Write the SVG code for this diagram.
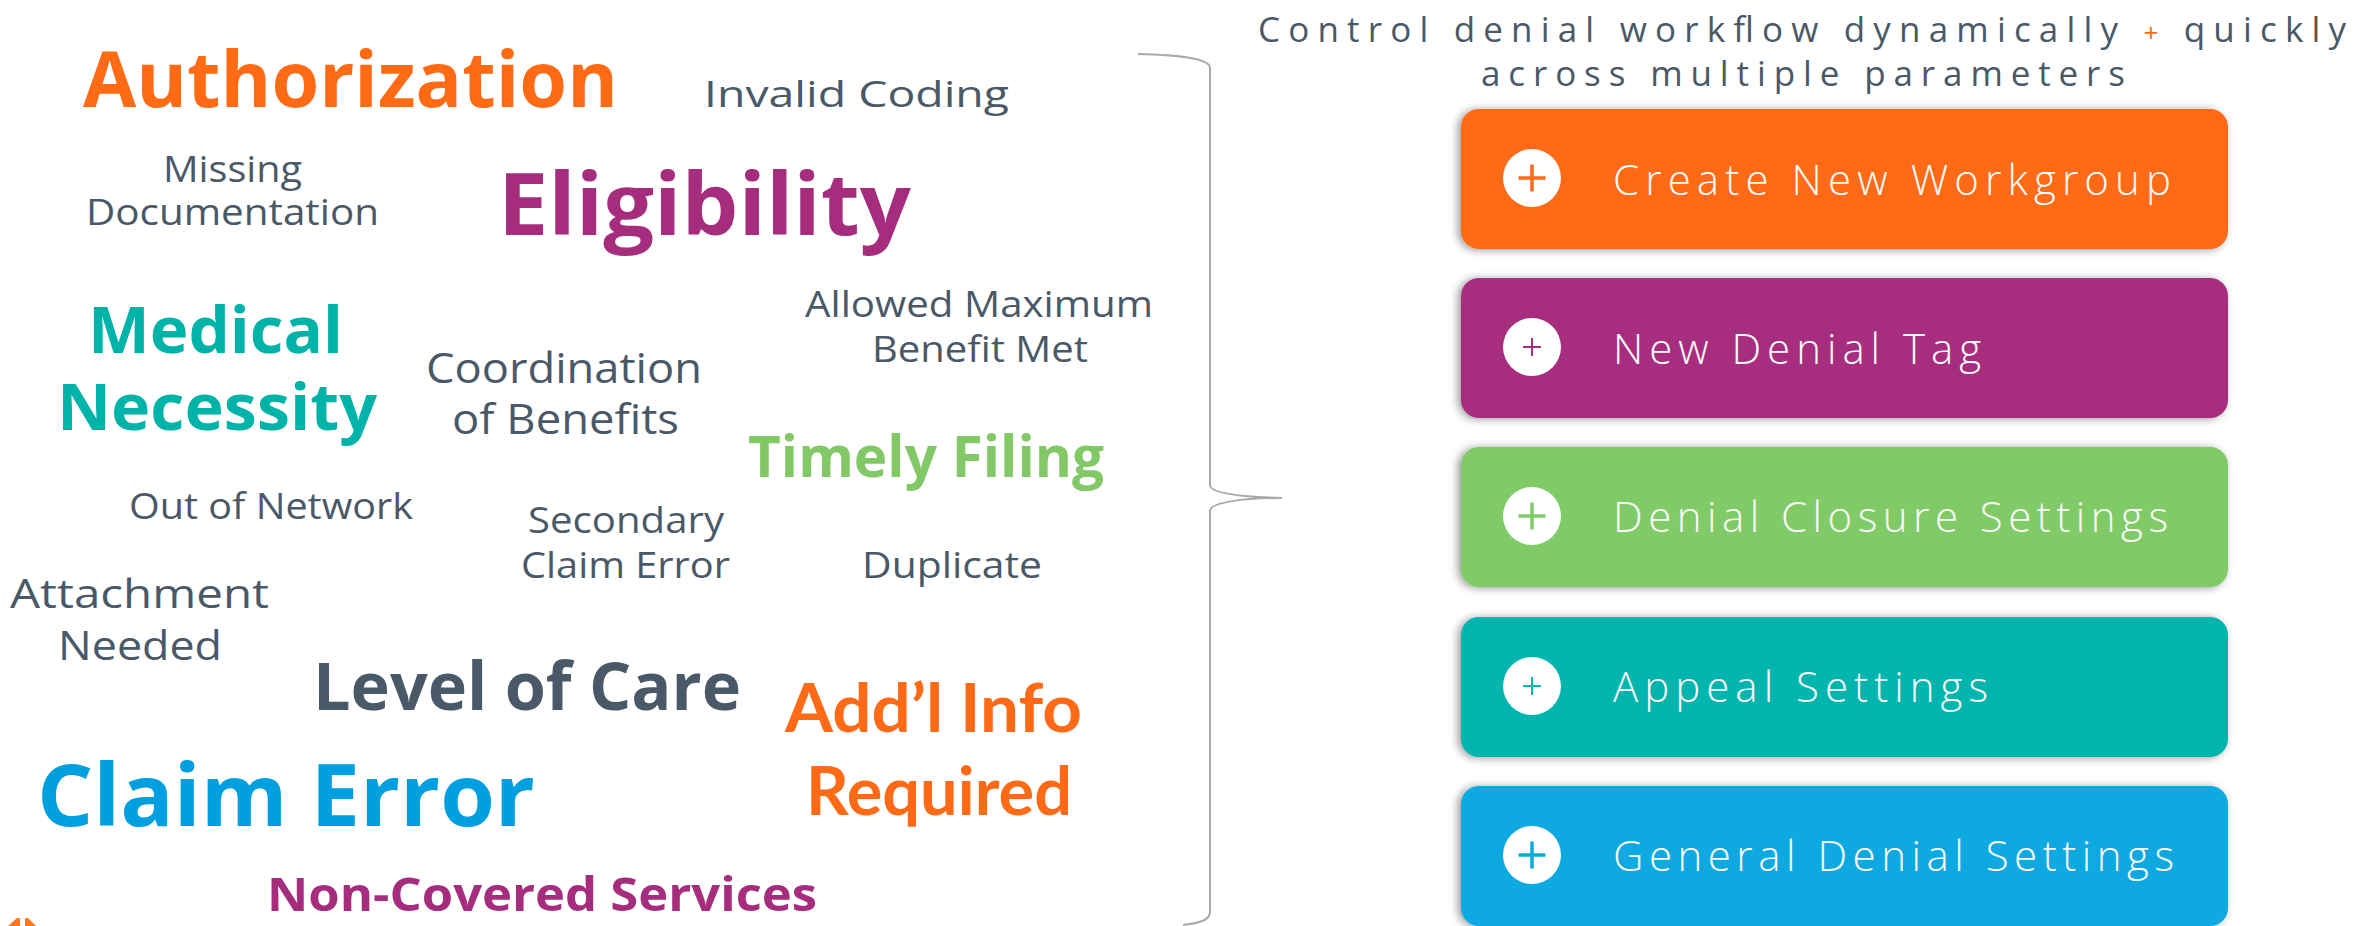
<svg xmlns="http://www.w3.org/2000/svg" width="2356" height="926" viewBox="0 0 2356 926">
<style>
.w{font-family:"Open Sans","Liberation Sans",sans-serif;fill:#4a5968;font-weight:400}
.b{font-family:"Open Sans","Liberation Sans",sans-serif;font-weight:700}
.c{font-family:Lato,"Open Sans","Liberation Sans",sans-serif;font-weight:700;fill:#ff6a17}
.btxt{font-family:"Open Sans","Liberation Sans",sans-serif;font-weight:300;font-size:42px;fill:#fafafa}
.title{font-family:"Open Sans","Liberation Sans",sans-serif;font-weight:400;font-size:35px;fill:#4a5968}
.brace{fill:none;stroke:#a9a9a9;stroke-width:2}
.ic{fill:#ffffff}
.pl{fill:none;stroke-linecap:butt}
</style>
<defs>
<filter id="sh" x="-5%" y="-15%" width="110%" height="130%">
<feDropShadow dx="-3" dy="1" stdDeviation="4" flood-color="#000" flood-opacity="0.4"/>
</filter>
</defs>
<rect width="2356" height="926" fill="#ffffff"/>

<g id="word-cloud">
<g id="w-authorization"><text class="b" x="83" y="107" font-size="77" fill="#ff6a14" textLength="535" lengthAdjust="spacingAndGlyphs">Authorization</text></g>
<g id="w-invalid-coding"><text class="w" x="704" y="107" font-size="37" textLength="305" lengthAdjust="spacingAndGlyphs">Invalid Coding</text></g>
<g id="w-missing-documentation">
<text class="w" x="163" y="182" font-size="37" textLength="139" lengthAdjust="spacingAndGlyphs">Missing</text>
<text class="w" x="86" y="225" font-size="37" textLength="293" lengthAdjust="spacingAndGlyphs">Documentation</text>
</g>
<g id="w-eligibility"><text class="b" x="498" y="235" font-size="86" fill="#a62d7d" textLength="413" lengthAdjust="spacingAndGlyphs">Eligibility</text></g>
<g id="w-medical-necessity">
<text class="b" x="88" y="353" font-size="64" fill="#00b3a9" textLength="255" lengthAdjust="spacingAndGlyphs">Medical</text>
<text class="b" x="57" y="430" font-size="64" fill="#00b3a9" textLength="320" lengthAdjust="spacingAndGlyphs">Necessity</text>
</g>
<g id="w-coordination">
<text class="w" x="426" y="383" font-size="42" textLength="276" lengthAdjust="spacingAndGlyphs">Coordination</text>
<text class="w" x="452" y="434" font-size="42" textLength="227" lengthAdjust="spacingAndGlyphs">of Benefits</text>
</g>
<g id="w-allowed-maximum">
<text class="w" x="805" y="317" font-size="37" textLength="348" lengthAdjust="spacingAndGlyphs">Allowed Maximum</text>
<text class="w" x="872" y="362" font-size="37" textLength="216" lengthAdjust="spacingAndGlyphs">Benefit Met</text>
</g>
<g id="w-timely-filing"><text class="b" x="748" y="477" font-size="57" fill="#82c866" textLength="356" lengthAdjust="spacingAndGlyphs">Timely Filing</text></g>
<g id="w-out-of-network"><text class="w" x="129" y="519" font-size="37" textLength="284" lengthAdjust="spacingAndGlyphs">Out of Network</text></g>
<g id="w-secondary-claim-error">
<text class="w" x="528" y="533" font-size="37" textLength="196" lengthAdjust="spacingAndGlyphs">Secondary</text>
<text class="w" x="521" y="578" font-size="37" textLength="209" lengthAdjust="spacingAndGlyphs">Claim Error</text>
</g>
<g id="w-duplicate"><text class="w" x="862" y="578" font-size="37" textLength="180" lengthAdjust="spacingAndGlyphs">Duplicate</text></g>
<g id="w-attachment-needed">
<text class="w" x="10" y="608" font-size="41" textLength="259" lengthAdjust="spacingAndGlyphs">Attachment</text>
<text class="w" x="58" y="660" font-size="41" textLength="164" lengthAdjust="spacingAndGlyphs">Needed</text>
</g>
<g id="w-level-of-care"><text class="b" x="313" y="710" font-size="67" fill="#4a5968" textLength="428" lengthAdjust="spacingAndGlyphs">Level of Care</text></g>
<g id="w-addl-info-required">
<text class="c" x="785" y="732" font-size="66" textLength="297" lengthAdjust="spacingAndGlyphs">Add’l Info</text>
<text class="c" x="806" y="815" font-size="66" textLength="266" lengthAdjust="spacingAndGlyphs">Required</text>
</g>
<g id="w-claim-error"><text class="b" x="37" y="826" font-size="86" fill="#009fdf" textLength="498" lengthAdjust="spacingAndGlyphs">Claim Error</text></g>
<g id="w-non-covered"><text class="b" x="267" y="911" font-size="47" fill="#a62d7d" textLength="550" lengthAdjust="spacingAndGlyphs">Non-Covered Services</text></g>
<g id="logo-mark" fill="#ff7a1e">
<polygon points="8,926 17,918 20,918 20,926"/>
<polygon points="25,918 28,918 36,926 25,926"/>
</g>
</g>

<g id="connectors">
<path class="brace" d="M1138,54 C1178,55 1210,58 1210,68 L1210,485 C1210,494 1245,497 1282,498 C1245,498 1210,502 1210,511 L1210,912 C1210,920 1200,923 1183,925"/>
</g>

<g id="title">
<text class="title" x="1802" y="42" text-anchor="middle" textLength="1088" lengthAdjust="spacing">Control denial workflow dynamically <tspan fill="#ff6a17" font-size="26">+</tspan> quickly</text>
<text class="title" x="1803" y="86" text-anchor="middle" textLength="644" lengthAdjust="spacing">across multiple parameters</text>
</g>

<g id="btn-create-new-workgroup">
<rect x="1461" y="109" width="767" height="140" rx="18" fill="#ff6a17" filter="url(#sh)"/>
<circle class="ic" cx="1532" cy="178" r="29"/>
<path class="pl" d="M1518.5,178H1545.5M1532,164.5V191.5" stroke="#ff6a17" stroke-width="3.5"/>
<text class="btxt" x="1613" y="195" textLength="558" lengthAdjust="spacing">Create New Workgroup</text>
</g>
<g id="btn-new-denial-tag">
<rect x="1461" y="278" width="767" height="140" rx="18" fill="#a72d7e" filter="url(#sh)"/>
<circle class="ic" cx="1532" cy="347" r="29"/>
<path class="pl" d="M1523,347H1541M1532,338V356" stroke="#a72d7e" stroke-width="2"/>
<text class="btxt" x="1613" y="364" textLength="368" lengthAdjust="spacing">New Denial Tag</text>
</g>
<g id="btn-denial-closure-settings">
<rect x="1461" y="447" width="767" height="140" rx="18" fill="#80cb67" filter="url(#sh)"/>
<circle class="ic" cx="1532" cy="516" r="29"/>
<path class="pl" d="M1518.5,516H1545.5M1532,502.5V529.5" stroke="#80cb67" stroke-width="3.5"/>
<text class="btxt" x="1613" y="532" textLength="555" lengthAdjust="spacing">Denial Closure Settings</text>
</g>
<g id="btn-appeal-settings">
<rect x="1461" y="617" width="767" height="140" rx="18" fill="#02b5ad" filter="url(#sh)"/>
<circle class="ic" cx="1532" cy="686" r="29"/>
<path class="pl" d="M1523,686H1541M1532,677V695" stroke="#02b5ad" stroke-width="2"/>
<text class="btxt" x="1613" y="702" textLength="375" lengthAdjust="spacing">Appeal Settings</text>
</g>
<g id="btn-general-denial-settings">
<rect x="1461" y="786" width="767" height="140" rx="18" fill="#0aa9e0" filter="url(#sh)"/>
<circle class="ic" cx="1532" cy="855" r="29"/>
<path class="pl" d="M1518.5,855H1545.5M1532,841.5V868.5" stroke="#0aa9e0" stroke-width="3.5"/>
<text class="btxt" x="1613" y="871" textLength="561" lengthAdjust="spacing">General Denial Settings</text>
</g>
</svg>
